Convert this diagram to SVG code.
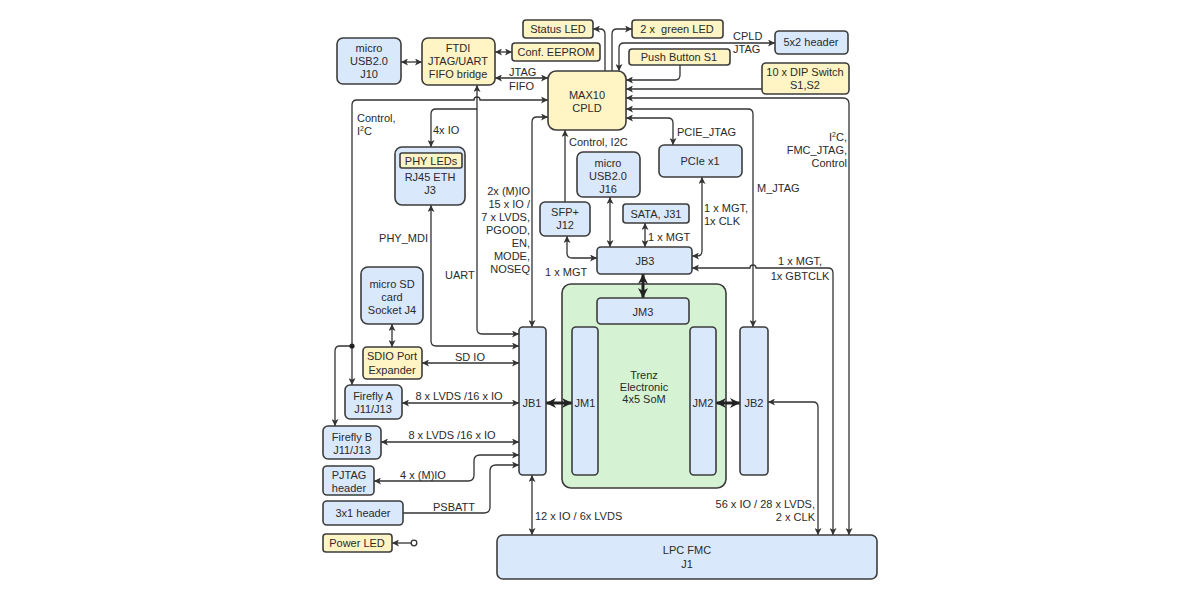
<svg xmlns="http://www.w3.org/2000/svg" width="1200" height="600" viewBox="0 0 1200 600">
<defs>
<marker id="a" viewBox="0 0 10 10" refX="10" refY="5" markerWidth="7" markerHeight="7" orient="auto-start-reverse" markerUnits="userSpaceOnUse"><path d="M0,0 L10,5 L0,10 L2.5,5 z" fill="#333"/></marker>
<marker id="b" viewBox="0 0 10 10" refX="10" refY="5" markerWidth="10" markerHeight="11" orient="auto-start-reverse" markerUnits="userSpaceOnUse"><path d="M0,0 L10,5 L0,10 L3,5 z" fill="#222"/></marker>
<style>
text{font-family:"Liberation Sans",Arial,sans-serif;font-size:11px;fill:#2a2a2a}
.n{text-anchor:middle}
.r{text-anchor:end}
.bl{fill:#dae8fc;stroke:#3c3c3c;stroke-width:1.6}
.ye{fill:#fff4c4;stroke:#3c3c3c;stroke-width:1.6}
.gr{fill:#d5f3d3;stroke:#3c3c3c;stroke-width:1.6}
.c path{fill:none;stroke:#333;stroke-width:1.3}
.c .d{marker-start:url(#a);marker-end:url(#a)}
.c .e{marker-end:url(#a)}
.c .t{stroke:#222;stroke-width:3;marker-start:url(#b);marker-end:url(#b)}
</style>
</defs>
<rect width="1200" height="600" fill="#fff"/>

<g id="som"><rect class="gr" x="562" y="284" width="164" height="204" rx="9"/><text class="n" x="644" y="379">Trenz</text><text class="n" x="644" y="391">Electronic</text><text class="n" x="644" y="403">4x5 SoM</text></g>

<g class="c" id="connectors">
<path class="d" d="M401,62 H422"/>
<path class="d" d="M495,52 H512"/>
<path class="d" d="M495,78 H548"/>
<path class="e" d="M605,71 V34 Q605,29 600,29 H593"/>
<path class="e" d="M612,71 V34 Q612,29 617,29 H632"/>
<path class="d" d="M619,71 V48 Q619,43 624,43 H775"/>
<path class="e" d="M680,65 V75 Q680,80 675,80 H626"/>
<path class="e" d="M762,89 H626"/>
<path class="d" d="M626,98 H843 Q849,98 849,104 V535"/>
<path class="d" d="M626,109 H748 Q753,109 753,114 V327"/>
<path class="d" d="M626,118 H668 Q673,118 673,123 V145"/>
<path class="d" d="M548,100 H480 A3,3 0 0 0 474,100 H357 Q352,100 352,105 V385"/>
<path class="e" d="M352,346 H340 Q335,346 335,351 V426"/>
<path class="e" d="M477,109 H436 Q431,109 431,114 V147"/>
<path class="d" d="M477,85 V329 Q477,334 482,334 H519"/>
<path class="d" d="M431,205 V341 Q431,346 436,346 H519"/>
<path class="d" d="M548,117 H537 Q532,117 532,122 V327"/>
<path class="e" d="M565,202 V130"/>
<path class="d" d="M610,197 V247"/>
<path class="d" d="M645,223 V247"/>
<path class="d" d="M702,177 V251 Q702,256 697,256 H692"/>
<path class="d" d="M567,236 V253 Q567,258 572,258 H597"/>
<path class="d" d="M692,268 H750 A3,3 0 0 1 756,268 H828 Q833,268 833,273 V535"/>
<path class="t" d="M643,274 V298"/>
<path class="t" d="M546,403 H572"/>
<path class="t" d="M716,403 H740"/>
<path class="d" d="M768,402 H813 Q818,402 818,407 V535"/>
<path class="d" d="M532,475 V535"/>
<path class="d" d="M392,324 V347"/>
<path class="d" d="M422,363 H519"/>
<path class="d" d="M402,403 H519"/>
<path class="d" d="M381,442 H519"/>
<path class="d" d="M374,481 H468 Q474,481 474,475 V461 Q474,455 480,455 H519"/>
<path class="e" d="M403,513 H484 Q490,513 490,507 V471 Q490,465 496,465 H519"/>
<path class="e" d="M411,543 H392"/>
<circle cx="352" cy="346" r="2.6" fill="#222"/>
<circle cx="414" cy="543" r="2.8" fill="#fff" stroke="#333" stroke-width="1.3"/>
</g>

<g id="labels">
<text x="509" y="76">JTAG</text><text x="509" y="90">FIFO</text>
<text x="733" y="40">CPLD</text><text x="733" y="53">JTAG</text>
<text x="357" y="122">Control,</text><text x="357" y="135">I<tspan dy="-4" font-size="7">2</tspan><tspan dy="4">C</tspan></text>
<text x="433" y="134">4x IO</text>
<text x="569" y="146">Control, I2C</text>
<text x="677" y="136">PCIE_JTAG</text>
<text class="r" x="847" y="141">I<tspan dy="-4" font-size="7">2</tspan><tspan dy="4">C,</tspan></text>
<text class="r" x="847" y="154">FMC_JTAG,</text>
<text class="r" x="847" y="167">Control</text>
<text x="757" y="192">M_JTAG</text>
<text class="r" x="530" y="195">2x (M)IO</text>
<text class="r" x="530" y="208">15 x IO /</text>
<text class="r" x="530" y="221">7 x LVDS,</text>
<text class="r" x="530" y="234">PGOOD,</text>
<text class="r" x="530" y="247">EN,</text>
<text class="r" x="530" y="260">MODE,</text>
<text class="r" x="530" y="273">NOSEQ</text>
<text x="704" y="212">1 x MGT,</text><text x="704" y="225">1x CLK</text>
<text x="648" y="241">1 x MGT</text>
<text class="r" x="428" y="242">PHY_MDI</text>
<text x="445" y="279">UART</text>
<text x="545" y="276">1 x MGT</text>
<text class="n" x="800" y="265">1 x MGT,</text><text class="n" x="800" y="280">1x GBTCLK</text>
<text class="n" x="470" y="361">SD IO</text>
<text class="n" x="459" y="400">8 x LVDS /16 x IO</text>
<text class="n" x="452" y="439">8 x LVDS /16 x IO</text>
<text class="n" x="423" y="479">4 x (M)IO</text>
<text class="n" x="454" y="511">PSBATT</text>
<text x="535" y="520">12 x IO / 6x LVDS</text>
<text class="r" x="815" y="508">56 x IO / 28 x LVDS,</text><text class="r" x="815" y="521">2 x CLK</text>
</g>

<g id="j10"><rect class="bl" x="337" y="38" width="64" height="46" rx="6"/><text class="n" x="369" y="52">micro</text><text class="n" x="369" y="65">USB2.0</text><text class="n" x="369" y="78">J10</text></g>
<g id="ftdi"><rect class="ye" x="422" y="38" width="73" height="47" rx="6"/><text class="n" x="458" y="52">FTDI</text><text class="n" x="458" y="65">JTAG/UART</text><text class="n" x="458" y="78">FIFO bridge</text></g>
<g id="statusled"><rect class="ye" x="523" y="20" width="70" height="18" rx="3"/><text class="n" x="558" y="33">Status LED</text></g>
<g id="eeprom"><rect class="ye" x="512" y="43" width="88" height="18" rx="3"/><text class="n" x="556" y="56">Conf. EEPROM</text></g>
<g id="greenled"><rect class="ye" x="632" y="20" width="91" height="18" rx="3"/><text class="n" x="677" y="33" xml:space="preserve">2 x  green LED</text></g>
<g id="pushbutton"><rect class="ye" x="629" y="49" width="101" height="16" rx="3"/><text class="n" x="679" y="61">Push Button S1</text></g>
<g id="header5x2"><rect class="bl" x="775" y="31" width="73" height="23" rx="4"/><text class="n" x="811" y="46">5x2 header</text></g>
<g id="dip"><rect class="ye" x="762" y="63" width="87" height="31" rx="4"/><text class="n" x="805" y="76">10 x DIP Switch</text><text class="n" x="805" y="89">S1,S2</text></g>
<g id="cpld"><rect class="ye" x="548" y="71" width="78" height="59" rx="8"/><text class="n" x="587" y="99">MAX10</text><text class="n" x="587" y="112">CPLD</text></g>
<g id="rj45"><rect class="bl" x="395" y="147" width="70" height="58" rx="7"/><rect class="ye" x="400" y="153" width="62" height="15" rx="2"/><text class="n" x="431" y="165">PHY LEDs</text><text class="n" x="430" y="181">RJ45 ETH</text><text class="n" x="430" y="194">J3</text></g>
<g id="j16"><rect class="bl" x="577" y="152" width="63" height="45" rx="6"/><text class="n" x="608" y="167">micro</text><text class="n" x="608" y="180">USB2.0</text><text class="n" x="608" y="193">J16</text></g>
<g id="pcie"><rect class="bl" x="659" y="145" width="83" height="32" rx="5"/><text class="n" x="700" y="165">PCIe x1</text></g>
<g id="sfp"><rect class="bl" x="540" y="202" width="50" height="34" rx="5"/><text class="n" x="565" y="216">SFP+</text><text class="n" x="565" y="229">J12</text></g>
<g id="sata"><rect class="bl" x="623" y="204" width="66" height="19" rx="3"/><text class="n" x="656" y="218">SATA, J31</text></g>
<g id="jb3"><rect class="bl" x="597" y="247" width="95" height="27" rx="4"/><text class="n" x="645" y="265">JB3</text></g>
<g id="microsd"><rect class="bl" x="361" y="267" width="62" height="57" rx="7"/><text class="n" x="392" y="288">micro SD</text><text class="n" x="392" y="301">card</text><text class="n" x="392" y="314">Socket J4</text></g>
<g id="jm3"><rect class="bl" x="597" y="298" width="92" height="26" rx="4"/><text class="n" x="643" y="316">JM3</text></g>
<g id="jm1"><rect class="bl" x="572" y="327" width="26" height="148" rx="4"/><text class="n" x="585" y="407">JM1</text></g>
<g id="jm2"><rect class="bl" x="690" y="327" width="26" height="148" rx="4"/><text class="n" x="703" y="407">JM2</text></g>
<g id="jb1"><rect class="bl" x="519" y="327" width="27" height="148" rx="4"/><text class="n" x="532" y="407">JB1</text></g>
<g id="jb2"><rect class="bl" x="740" y="327" width="28" height="148" rx="4"/><text class="n" x="754" y="407">JB2</text></g>
<g id="sdio"><rect class="ye" x="363" y="347" width="59" height="32" rx="4"/><text class="n" x="392" y="360">SDIO Port</text><text class="n" x="392" y="374">Expander</text></g>
<g id="fireflya"><rect class="bl" x="345" y="385" width="57" height="34" rx="5"/><text class="n" x="373" y="400">Firefly A</text><text class="n" x="373" y="413">J11/J13</text></g>
<g id="fireflyb"><rect class="bl" x="323" y="426" width="58" height="33" rx="5"/><text class="n" x="352" y="441">Firefly B</text><text class="n" x="352" y="454">J11/J13</text></g>
<g id="pjtag"><rect class="bl" x="323" y="466" width="51" height="29" rx="4"/><text class="n" x="349" y="479">PJTAG</text><text class="n" x="349" y="492">header</text></g>
<g id="header3x1"><rect class="bl" x="323" y="501" width="80" height="24" rx="4"/><text class="n" x="363" y="517">3x1 header</text></g>
<g id="powerled"><rect class="ye" x="323" y="534" width="69" height="18" rx="3"/><text class="n" x="357" y="547">Power LED</text></g>
<g id="lpcfmc"><rect class="bl" x="497" y="535" width="380" height="44" rx="6"/><text class="n" x="687" y="554">LPC FMC</text><text class="n" x="687" y="568">J1</text></g>
</svg>
